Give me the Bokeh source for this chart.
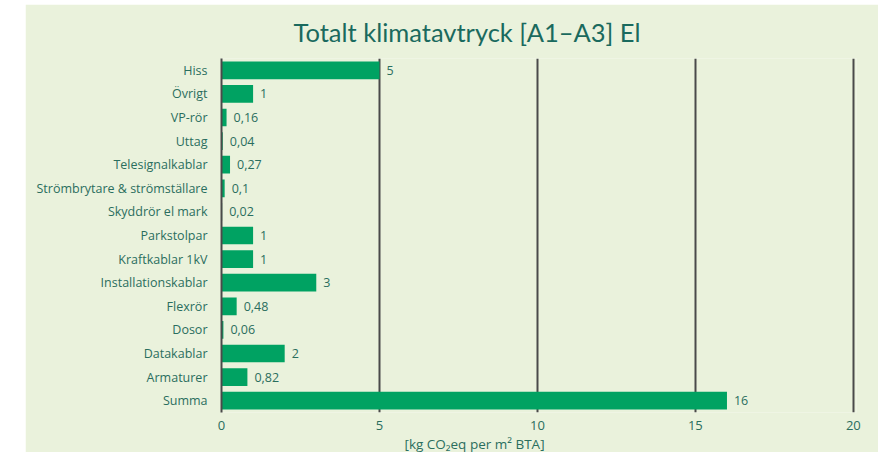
from bokeh.plotting import figure
from bokeh.models import Range1d, FactorRange, ColumnDataSource, Title, Spacer, FixedTicker
from bokeh.layouts import row, column
from bokeh.core.properties import value
from bokeh.embed import file_html
from bokeh.resources import INLINE

categories = ["Hiss", "Övrigt", "VP-rör", "Uttag", "Telesignalkablar",
              "Strömbrytare & strömställare", "Skyddrör el mark", "Parkstolpar",
              "Kraftkablar 1kV", "Installationskablar", "Flexrör", "Dosor",
              "Datakablar", "Armaturer", "Summa"]
values = [5, 1, 0.16, 0.04, 0.27, 0.1, 0.02, 1, 1, 3, 0.48, 0.06, 2, 0.82, 16]
value_labels = ["5", "1", "0,16", "0,04", "0,27", "0,1", "0,02", "1", "1", "3",
                "0,48", "0,06", "2", "0,82", "16"]
x_ticks = [0, 5, 10, 15, 20]

title_text = "Totalt klimatavtryck [A1–A3] El"
x_label = "[kg CO₂eq per m² BTA]"

BG = "#eaf2dc"
BAR = "#00a262"
TXT = "#2a6e5e"
FONT = "Open Sans"

src = ColumnDataSource(dict(cat=categories, val=values, lab=value_labels))

p = figure(width=853, height=448, output_backend="svg", toolbar_location=None,
           y_range=FactorRange(factors=categories[::-1], range_padding=0),
           x_range=Range1d(0, 20.1),
           min_border_left=196, min_border_right=22, min_border_top=54, min_border_bottom=37)
p.background_fill_color = BG
p.border_fill_color = BG
p.outline_line_color = None

p.title.text = title_text
p.title.text_font = "Lato"
p.title.text_font_size = "25.5px"
p.title.text_font_style = "normal"
p.title.text_color = "#1a6a5e"
p.title.align = "left"
p.title.vertical_align = "top"
p.title.offset = 72
p.title.standoff = 20

p.hbar(y="cat", right="val", left=0, height=0.75, source=src,
       fill_color=BAR, line_color=None)
p.text(x="val", y="cat", text="lab", source=src, x_offset=7,
       text_baseline="middle", text_align="left", text_font=value(FONT),
       text_font_size="12.5px", text_color=TXT)

p.xgrid.ticker = FixedTicker(ticks=x_ticks)
p.xaxis.ticker = FixedTicker(ticks=x_ticks)
p.xgrid.grid_line_color = "#4a4a4a"
p.xgrid.grid_line_width = 2
p.ygrid.grid_line_color = None

p.xaxis.axis_line_color = None
p.xaxis.major_tick_line_color = None
p.xaxis.minor_tick_line_color = None
p.xaxis.major_label_standoff = 2
p.xaxis.major_label_text_font = FONT
p.xaxis.major_label_text_font_size = "13px"
p.xaxis.major_label_text_color = TXT

p.yaxis.axis_line_color = "#4a4a4a"
p.yaxis.axis_line_width = 2
p.yaxis.major_tick_line_color = None
p.yaxis.minor_tick_line_color = None
p.yaxis.major_label_standoff = 8
p.yaxis.major_label_text_font = FONT
p.yaxis.major_label_text_font_size = "12.5px"
p.yaxis.major_label_text_color = TXT

p.add_layout(Title(text=x_label, align="left", offset=183, text_font=FONT,
                   text_font_size="13.5px", text_font_style="normal",
                   text_color=TXT, standoff=0), "below")

layout = column(Spacer(width=878, height=4),
                row(Spacer(width=25, height=448), p))
open("out.html", "w").write(file_html(layout, INLINE))
